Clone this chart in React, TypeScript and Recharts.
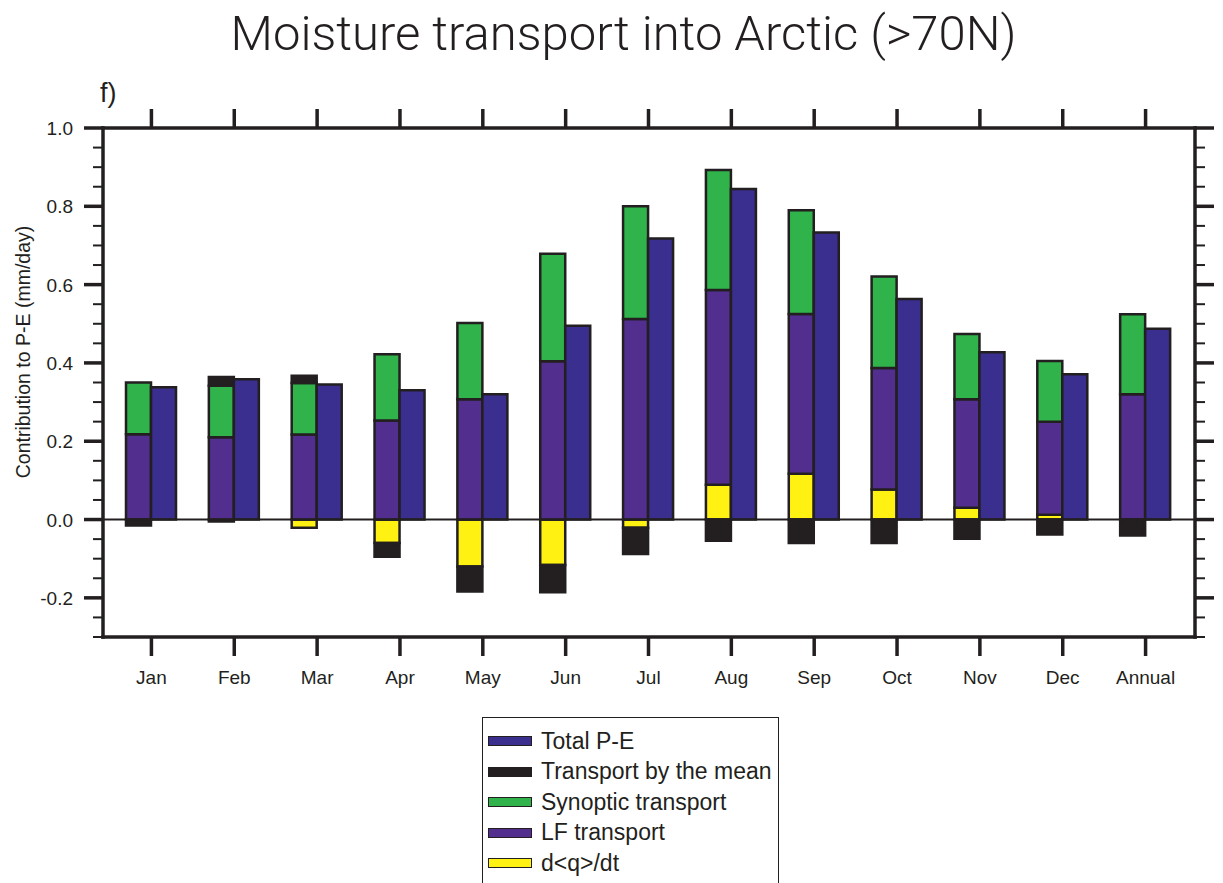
import { BarChart, Bar, XAxis, YAxis, ReferenceLine } from "recharts"

const months = ["Jan", "Feb", "Mar", "Apr", "May", "Jun", "Jul", "Aug", "Sep", "Oct", "Nov", "Dec", "Annual"]

// mm/day
const totalPE = [0.338, 0.358, 0.345, 0.33, 0.32, 0.495, 0.718, 0.844, 0.733, 0.563, 0.427, 0.371, 0.487]
const meanTransport = [-0.015, 0.022, 0.018, -0.035, -0.064, -0.07, -0.067, -0.054, -0.06, -0.06, -0.049, -0.038, -0.041]
const synopticTransport = [0.132, 0.132, 0.132, 0.169, 0.195, 0.275, 0.288, 0.307, 0.265, 0.234, 0.167, 0.155, 0.204]
const lfTransport = [0.218, 0.21, 0.217, 0.253, 0.307, 0.404, 0.512, 0.497, 0.408, 0.31, 0.277, 0.238, 0.32]
const dqdt = [0, -0.005, -0.021, -0.06, -0.12, -0.116, -0.021, 0.089, 0.117, 0.077, 0.03, 0.012, 0]

const yMajorTicks = [-0.2, 0, 0.2, 0.4, 0.6, 0.8, 1.0]
const yAllTicks = [
  -0.3, -0.25, -0.2, -0.15, -0.1, -0.05, 0, 0.05, 0.1, 0.15, 0.2, 0.25, 0.3, 0.35, 0.4, 0.45, 0.5,
  0.55, 0.6, 0.65, 0.7, 0.75, 0.8, 0.85, 0.9, 0.95, 1.0,
]

const data = months.map((month, i) => ({
  month,
  total: totalPE[i],
  mean: meanTransport[i],
  synoptic: synopticTransport[i],
  lf: lfTransport[i],
  dqdt: dqdt[i],
}))

const INK = "#231f20"
const COLORS = {
  total: "#3a2e8e",
  mean: "#231f20",
  synoptic: "#2fb34a",
  lf: "#522f8e",
  dqdt: "#fff212",
}

const legendItems = [
  { label: "Total P-E", color: COLORS.total },
  { label: "Transport by the mean", color: COLORS.mean },
  { label: "Synoptic transport", color: COLORS.synoptic },
  { label: "LF transport", color: COLORS.lf },
  { label: "d<q>/dt", color: COLORS.dqdt },
]

const FONT = "'Liberation Sans', Arial, Helvetica, sans-serif"

const LeftTick = ({ x, y, payload }: any) => {
  const major = yMajorTicks.includes(payload.value)
  return (
    <g>
      <line x1={x - (major ? 19 : 10)} x2={x} y1={y} y2={y} stroke={INK} strokeWidth={major ? 3.5 : 2} />
      {major && (
        <text x={x - 30} y={y} dy={7} textAnchor="end" fontSize={19} fontFamily={FONT} fill={INK}>
          {payload.value.toFixed(1)}
        </text>
      )}
    </g>
  )
}

const RightTick = ({ x, y, payload }: any) => {
  const major = yMajorTicks.includes(payload.value)
  return <line x1={x} x2={x + (major ? 19 : 10)} y1={y} y2={y} stroke={INK} strokeWidth={major ? 3.5 : 2} />
}

const BottomTick = ({ x, y, payload }: any) => (
  <g>
    <line x1={x} x2={x} y1={y} y2={y + 19} stroke={INK} strokeWidth={3.5} />
    <text x={x} y={y + 47} textAnchor="middle" fontSize={19} fontFamily={FONT} fill={INK}>
      {payload.value}
    </text>
  </g>
)

const TopTick = ({ x, y }: any) => <line x1={x} x2={x} y1={y} y2={y - 19} stroke={INK} strokeWidth={3.5} />

const barStroke = { stroke: INK, strokeWidth: 2.5 }

export default function App() {
  return (
    <div style={{ position: "absolute", left: 0, top: 0, width: 1223, height: 883, overflow: "hidden", background: "#fff" }}>
      <div
        style={{
          position: "absolute",
          left: 12,
          width: 1223,
          top: 10,
          textAlign: "center",
          fontFamily: "Roboto, 'Liberation Sans', sans-serif",
          fontWeight: 300,
          fontSize: 49,
          lineHeight: "48px",
          color: INK,
          whiteSpace: "nowrap",
        }}
      >
        Moisture transport into Arctic (&gt;70N)
      </div>
      <div style={{ position: "absolute", left: 100, top: 80, fontFamily: FONT, fontSize: 27, lineHeight: "27px", color: INK }}>
        f)
      </div>
      <div
        style={{
          position: "absolute",
          left: 23,
          top: 352,
          transform: "translate(-50%, -50%) rotate(-90deg)",
          fontFamily: FONT,
          fontSize: 19.5,
          color: INK,
          whiteSpace: "nowrap",
        }}
      >
        Contribution to P-E (mm/day)
      </div>

      <BarChart
        width={1223}
        height={883}
        data={data}
        margin={{ top: 108, right: 8, bottom: 186, left: 63 }}
        stackOffset="sign"
        barGap={0}
        barSize={25}
      >
        <XAxis
          dataKey="month"
          height={60}
          interval={0}
          padding={{ left: 7, right: 8 }}
          tickSize={0}
          tickMargin={0}
          tickLine={false}
          tick={<BottomTick />}
          axisLine={{ stroke: INK, strokeWidth: 3.5, strokeLinecap: "square" }}
        />
        <XAxis
          xAxisId="top"
          orientation="top"
          dataKey="month"
          height={20}
          interval={0}
          padding={{ left: 7, right: 8 }}
          tickSize={0}
          tickMargin={0}
          tickLine={false}
          tick={<TopTick />}
          axisLine={{ stroke: INK, strokeWidth: 3.5, strokeLinecap: "square" }}
        />
        <YAxis
          type="number"
          width={40}
          domain={[-0.3, 1.0]}
          ticks={yAllTicks}
          interval={0}
          allowDataOverflow
          tickSize={0}
          tickMargin={0}
          tickLine={false}
          tick={<LeftTick />}
          axisLine={{ stroke: INK, strokeWidth: 3.5, strokeLinecap: "square" }}
        />
        <YAxis
          yAxisId="right"
          orientation="right"
          type="number"
          width={20}
          domain={[-0.3, 1.0]}
          ticks={yAllTicks}
          interval={0}
          allowDataOverflow
          tickSize={0}
          tickMargin={0}
          tickLine={false}
          tick={<RightTick />}
          axisLine={{ stroke: INK, strokeWidth: 3.5, strokeLinecap: "square" }}
        />
        <ReferenceLine y={0} stroke={INK} strokeWidth={2} />
        <Bar dataKey="dqdt" stackId="parts" fill={COLORS.dqdt} {...barStroke} isAnimationActive={false} />
        <Bar dataKey="lf" stackId="parts" fill={COLORS.lf} {...barStroke} isAnimationActive={false} />
        <Bar dataKey="synoptic" stackId="parts" fill={COLORS.synoptic} {...barStroke} isAnimationActive={false} />
        <Bar dataKey="mean" stackId="parts" fill={COLORS.mean} {...barStroke} isAnimationActive={false} />
        <Bar dataKey="total" fill={COLORS.total} {...barStroke} isAnimationActive={false} />
      </BarChart>

      <div
        style={{
          position: "absolute",
          left: 482,
          top: 717,
          width: 297,
          height: 200,
          border: `1.5px solid ${INK}`,
          background: "#fff",
          fontFamily: FONT,
          fontSize: 23,
          color: INK,
          paddingTop: 8,
          boxSizing: "border-box",
        }}
      >
        {legendItems.map((item) => (
          <div key={item.label} style={{ display: "flex", alignItems: "center", height: 30.5 }}>
            <div
              style={{
                marginLeft: 5,
                width: 42,
                height: 8,
                background: item.color,
                border: `1px solid ${INK}`,
                boxSizing: "content-box",
              }}
            />
            <span style={{ marginLeft: 9, whiteSpace: "nowrap" }}>{item.label}</span>
          </div>
        ))}
      </div>
    </div>
  )
}
